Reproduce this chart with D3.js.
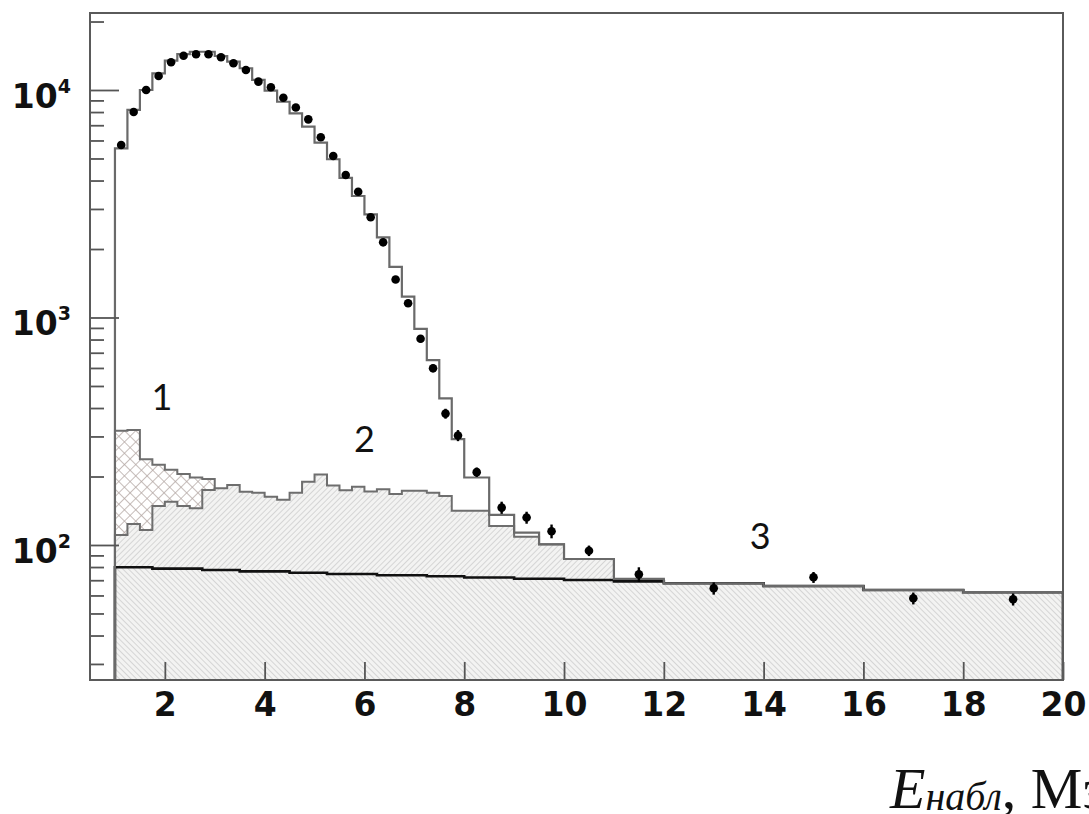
<!DOCTYPE html>
<html>
<head>
<meta charset="utf-8">
<script src="https://cdn.jsdelivr.net/npm/d3@7"></script>
<style>
  html, body { margin: 0; padding: 0; background: #fff; }
  svg { display: block; }
</style>
</head>
<body>
<svg id="chart" width="1089" height="814"></svg>
<script>
// ---------- DATA ----------
// bin edges (MeV)
const binEdges = [1, 1.25, 1.5, 1.75, 2, 2.25, 2.5, 2.75, 3, 3.25, 3.5, 3.75, 4, 4.25, 4.5, 4.75,
  5, 5.25, 5.5, 5.75, 6, 6.25, 6.5, 6.75, 7, 7.25, 7.5, 7.75, 8, 8.5, 9, 9.5, 10, 11, 12, 14, 16, 18, 20];

// total expectation (step histogram)
const totalMC = [5540, 8170, 10000, 11840, 13450, 14390, 14730, 14730, 14110, 13320, 12460, 11070,
  9930, 8880, 7900, 6900, 5870, 4960, 4110, 3420, 2840, 2250, 1670, 1234, 892, 650, 441, 292,
  198, 135.5, 113.3, 100.7, 86.8, 70.9, 67.9, 66.0, 63.4, 62.0];

// measured points (bin centres) and their errors
const dataX = [1.125, 1.375, 1.625, 1.875, 2.125, 2.375, 2.625, 2.875, 3.125, 3.375, 3.625, 3.875,
  4.125, 4.375, 4.625, 4.875, 5.125, 5.375, 5.625, 5.875, 6.125, 6.375, 6.625, 6.875, 7.125, 7.375,
  7.625, 7.875, 8.25, 8.75, 9.25, 9.75, 10.5, 11.5, 13, 15, 17, 19];
const dataY = [5730, 8000, 10000, 11520, 13240, 14150, 14350, 14350, 13920, 13110, 12240, 10880,
  10280, 9250, 8380, 7430, 6200, 5130, 4230, 3570, 2760, 2140, 1470, 1155, 806, 598, 378, 303,
  209, 146, 132, 115, 94.4, 74.3, 64.5, 72.1, 58.3, 57.7];
const dataErr = [76, 89, 100, 107, 115, 119, 120, 120, 118, 114, 111, 104, 101, 96, 92, 86, 79, 72,
  65, 60, 53, 46, 38, 34, 28, 24, 19, 17, 10, 9, 8, 8, 5, 5.5, 4, 4, 3.5, 3.5];

// component 1 (cross-hatched), bins 1.0 - 3.0
const comp1 = [318, 320, 238, 225, 214, 205, 198, 195];
// component 2 (hatched)
const comp2 = [110.7, 123.7, 116.4, 148.4, 155, 148.4, 145, 174.5, 177.5, 183.5, 171.5, 169.8,
  163.1, 158.2, 169.8, 189.7, 204.1, 182.6, 173.9, 180.4, 171.9, 175.7, 167.6, 173.3, 173.3, 169.8,
  164.2, 141.5, 141.5, 121.2, 108.8, 100.7, 86.8, 70.2, 67.9, 66.0, 63.4, 62.0];
// component 3 (flat background)
const comp3 = [79.8, 79.8, 79.8, 78.7, 78.7, 78.7, 78.7, 77.6, 77.6, 77.6, 76.6, 76.6, 76.6, 76.6,
  75.5, 75.5, 75.5, 74.6, 74.6, 74.6, 74.6, 73.6, 73.6, 73.6, 73.6, 72.9, 72.9, 72.9,
  72.0, 72.0, 71.1, 71.1, 70.2, 69.2, 67.9, 66.0, 63.4, 62.0];

const xTicks = [2, 4, 6, 8, 10, 12, 14, 16, 18, 20];
const yMajor = [100, 1000, 10000];
const yMajorExp = ["2", "3", "4"];
const yMinor = [30, 40, 50, 60, 70, 80, 90, 200, 300, 400, 500, 600, 700, 800, 900,
  2000, 3000, 4000, 5000, 6000, 7000, 8000, 9000, 20000];
const labels = [{t: "1", x: 1.94, y: 392}, {t: "2", x: 6.0, y: 256}, {t: "3", x: 13.93, y: 96}];

// ---------- LAYOUT ----------
const L = 90, R = 1063, T = 13, B = 680;
const svg = d3.select("#chart");
const x = d3.scaleLinear().domain([0.5, 20]).range([L, R]);
const y = d3.scaleLog().domain([25.5, 21800]).range([B, T]);

// patterns
const defs = svg.append("defs");
const p2 = defs.append("pattern").attr("id", "hatchA").attr("patternUnits", "userSpaceOnUse")
  .attr("width", 4).attr("height", 4).attr("patternTransform", "rotate(45)");
p2.append("rect").attr("width", 4).attr("height", 4).attr("fill", "#f3f3f2");
p2.append("line").attr("x1", 0).attr("y1", 0).attr("x2", 0).attr("y2", 4)
  .attr("stroke", "#c2c2c2").attr("stroke-width", 1.2);
const p3 = defs.append("pattern").attr("id", "hatchB").attr("patternUnits", "userSpaceOnUse")
  .attr("width", 4).attr("height", 4).attr("patternTransform", "rotate(-45)");
p3.append("rect").attr("width", 4).attr("height", 4).attr("fill", "#f3f3f2");
p3.append("line").attr("x1", 0).attr("y1", 0).attr("x2", 0).attr("y2", 4)
  .attr("stroke", "#c2c2c2").attr("stroke-width", 1.2);
const p1 = defs.append("pattern").attr("id", "cross").attr("patternUnits", "userSpaceOnUse")
  .attr("width", 8).attr("height", 8).attr("patternTransform", "rotate(45)");
p1.append("rect").attr("width", 8).attr("height", 8).attr("fill", "#ffffff");
p1.append("line").attr("x1", 0).attr("y1", 0).attr("x2", 0).attr("y2", 8)
  .attr("stroke", "#b3a7a3").attr("stroke-width", 1.5);
p1.append("line").attr("x1", 0).attr("y1", 0).attr("x2", 8).attr("y2", 0)
  .attr("stroke", "#b3a7a3").attr("stroke-width", 1.5);

svg.append("clipPath").attr("id", "plotclip").append("rect")
  .attr("x", L).attr("y", T).attr("width", R - L).attr("height", B - T);

const g = svg.append("g").attr("clip-path", "url(#plotclip)");

function stepPoints(vals) {
  const pts = [[binEdges[0], y.domain()[0]]];
  vals.forEach((v, i) => pts.push([binEdges[i], v]));
  pts.push([binEdges[vals.length], vals[vals.length - 1]]);
  pts.push([binEdges[vals.length], y.domain()[0]]);
  return pts;
}
const line = d3.line().x(d => x(d[0])).y(d => y(d[1])).curve(d3.curveStepAfter);
const area = d3.area().x(d => x(d[0])).y0(B).y1(d => y(d[1])).curve(d3.curveStepAfter);

// component 1
g.append("path").attr("d", area(stepPoints(comp1))).attr("fill", "url(#cross)");
g.append("path").attr("d", line(stepPoints(comp1))).attr("fill", "none")
  .attr("stroke", "#6e6e6e").attr("stroke-width", 2);
// component 2
g.append("path").attr("d", area(stepPoints(comp2))).attr("fill", "url(#hatchA)");
g.append("path").attr("d", line(stepPoints(comp2))).attr("fill", "none")
  .attr("stroke", "#6e6e6e").attr("stroke-width", 2);
// component 3
g.append("path").attr("d", area(stepPoints(comp3))).attr("fill", "url(#hatchB)");
g.append("path").attr("d", line(stepPoints(comp3))).attr("fill", "none")
  .attr("stroke", "#111").attr("stroke-width", 2.6);
// total
g.append("path").attr("d", line(stepPoints(totalMC))).attr("fill", "none")
  .attr("stroke", "#6a6a6a").attr("stroke-width", 2.2);

// data
const pts = dataX.map((v, i) => ({x: v, y: dataY[i], e: dataErr[i]}));
g.selectAll(".err").data(pts).enter().append("line")
  .attr("x1", d => x(d.x)).attr("x2", d => x(d.x))
  .attr("y1", d => y(d.y - d.e)).attr("y2", d => y(d.y + d.e))
  .attr("stroke", "#000").attr("stroke-width", 2.4);
g.selectAll(".dot").data(pts).enter().append("circle")
  .attr("cx", d => x(d.x)).attr("cy", d => y(d.y)).attr("r", 4.3).attr("fill", "#000");

// axes
const axCol = "#555";
const yMin = svg.append("g").attr("transform", `translate(${L},0)`)
  .call(d3.axisLeft(y).tickValues(yMinor).tickSizeInner(-14).tickSizeOuter(0).tickFormat(""));
const yMaj = svg.append("g").attr("transform", `translate(${L},0)`)
  .call(d3.axisLeft(y).tickValues(yMajor).tickSizeInner(-29).tickSizeOuter(0).tickPadding(19));
const xAx = svg.append("g").attr("transform", `translate(0,${B})`)
  .call(d3.axisBottom(x).tickValues(xTicks).tickSizeInner(-18).tickSizeOuter(0).tickPadding(13)
    .tickFormat(d3.format("d")));
[yMin, yMaj, xAx].forEach(a => {
  a.select(".domain").remove();
  a.selectAll(".tick line").attr("stroke", axCol).attr("stroke-width", 1.8);
});
yMaj.selectAll(".tick text").each(function(d, i) {
  const t = d3.select(this);
  t.text(null).attr("font-family", "DejaVu Sans, sans-serif").attr("font-weight", "bold")
    .attr("font-size", 33).attr("fill", "#111").attr("dy", "0.52em").attr("text-anchor", "end");
  t.append("tspan").text("10");
  t.append("tspan").attr("font-size", 19).attr("dy", -15).text(yMajorExp[i]);
});
xAx.selectAll(".tick text").attr("font-family", "DejaVu Sans, sans-serif")
  .attr("font-weight", "bold").attr("font-size", 33).attr("fill", "#111");

// frame
svg.append("rect").attr("x", L).attr("y", T).attr("width", R - L).attr("height", B - T)
  .attr("fill", "none").attr("stroke", "#5a5a5a").attr("stroke-width", 2);

// component labels
svg.selectAll(".lbl").data(labels).enter().append("text")
  .attr("x", d => x(d.x)).attr("y", d => y(d.y))
  .attr("text-anchor", "middle").attr("font-family", "Lato, 'Open Sans', sans-serif")
  .attr("font-size", 36).attr("fill", "#111").text(d => d.t);

// x-axis title (runs past the right edge, as in the original)
const title = svg.append("text").attr("x", 890).attr("y", 808)
  .attr("font-family", "'Liberation Serif', 'Times New Roman', serif").attr("font-size", 58).attr("fill", "#111");
title.append("tspan").attr("font-style", "italic").text("E");
title.append("tspan").attr("font-style", "italic").attr("font-size", 40).attr("dy", 2).text("набл");
title.append("tspan").attr("dy", -2).text(", МэВ");
</script>
</body>
</html>
